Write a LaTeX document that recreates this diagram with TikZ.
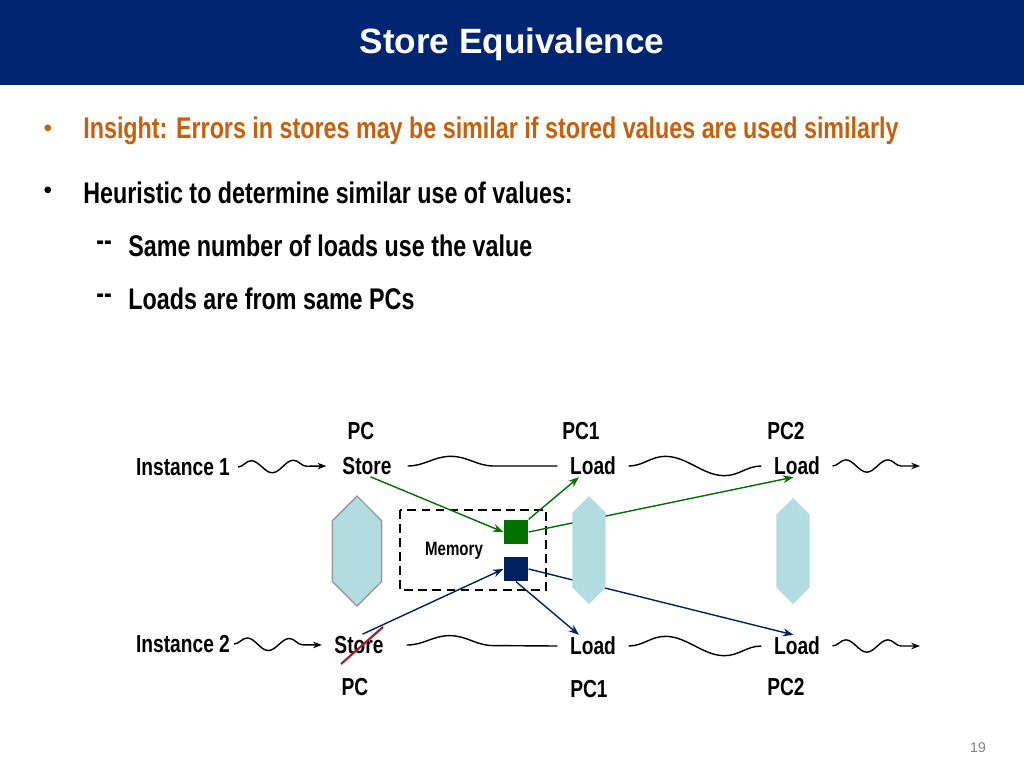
\documentclass[tikz,border=0pt]{standalone}
\usepackage{fontspec}
\setmainfont{Liberation Sans}
\newfontfamily\narrowfont[FakeStretch=0.78]{Liberation Sans}
\usepackage{xcolor}
\usetikzlibrary{shapes.arrows, decorations.pathmorphing, arrows.meta}
\definecolor{barblue}{HTML}{002672}
\definecolor{insight}{HTML}{C5600F}
\definecolor{memgreen}{HTML}{007000}
\definecolor{memblue}{HTML}{002060}
\definecolor{pale}{HTML}{B2DCDF}
\definecolor{slash}{HTML}{9E1B32}
\tikzstyle{lbl} = [font=\narrowfont\bfseries\fontsize{14}{16}\selectfont, inner sep=1pt]
\tikzstyle{bullet} = [font=\narrowfont\bfseries\fontsize{17}{20}\selectfont, anchor=west, inner sep=0pt]
\tikzstyle{wave} = [thick, decorate, decoration={snake, amplitude=5.5pt}]
\tikzstyle{wavearrow} = [thick, -{Stealth[length=5pt]}, decorate, decoration={snake, amplitude=3.5pt, segment length=24pt, post length=4pt}]
\tikzstyle{cell} = [rectangle, minimum size=14pt, inner sep=0pt]
\tikzstyle{garrow} = [thick, memgreen, -{Stealth[length=6pt]}]
\tikzstyle{barrow} = [thick, memblue, -{Stealth[length=6pt]}]
\tikzstyle{paleboth} = [double arrow, fill=pale, rotate=90, inner sep=0pt, minimum width=19pt, double arrow head extend=0pt, double arrow head indent=0pt]
\begin{document}
\begin{tikzpicture}[x=0.02cm, y=-0.02cm]
	\useasboundingbox (0,0) rectangle (1024,768);
	\fill[barblue] (0,0) rectangle (1024,85);
	\node[white, font=\bfseries\fontsize{20}{24}\selectfont] (title) at (512,44) {Store Equivalence};
	
	% bullets
	\node[font=\fontsize{14}{16}\selectfont, insight] (b1) at (48,131) {\textbullet};
	\node[bullet, insight] (t1) at (83,131) {Insight: Errors in stores may be similar if stored values are used similarly};
	\node[font=\fontsize{14}{16}\selectfont] (b2) at (48,193) {\textbullet};
	\node[bullet] (t2) at (83,193) {Heuristic to determine similar use of values:};
	\node[bullet] (d1) at (96,246) {--};
	\node[bullet] (t3) at (128,246) {Same number of loads use the value};
	\node[bullet] (d2) at (96,299) {--};
	\node[bullet] (t4) at (128,299) {Loads are from same PCs};
	
	% instance 1
	\node[lbl] (i1) at (183,467) {Instance 1};
	\node[lbl] (s1) at (367,466) {Store};
	\node[lbl] (pa) at (361,431) {PC};
	\node[lbl] (la) at (593,466) {Load};
	\node[lbl] (pa1) at (581,431) {PC1};
	\node[lbl] (lb) at (797,466) {Load};
	\node[lbl] (pa2) at (786,431) {PC2};
	\coordinate (e1) at (920,466);
	
	% instance 2
	\node[lbl] (i2) at (183,644) {Instance 2};
	\node[lbl] (s2) at (359,645) {Store};
	\node[lbl] (pb) at (355,687) {PC};
	\node[lbl] (lc) at (593,646) {Load};
	\node[lbl] (pb1) at (589,689) {PC1};
	\node[lbl] (ld) at (797,646) {Load};
	\node[lbl] (pb2) at (786,687) {PC2};
	\coordinate (e2) at (920,646);
	
	\draw[wavearrow] (i1.east) ++(6,0) -- ([xshift=-8]s1.west);
	\draw[wave, decoration={segment length=138*0.02cm}] ([xshift=8]s1.east) -- ([xshift=-6]la.west);
	\draw[wave, decoration={segment length=118*0.02cm}] ([xshift=6]la.east) -- ([xshift=-6]lb.west);
	\draw[wavearrow] ([xshift=6]lb.east) -- (e1);
	\draw[wavearrow] (i2.east) ++(2,0) -- ([xshift=-6]s2.west);
	\draw[wave, decoration={segment length=138*0.02cm}] ([xshift=12]s2.east) -- ([xshift=-6]lc.west);
	\draw[wave, decoration={segment length=118*0.02cm}] ([xshift=6]lc.east) -- ([xshift=-6]ld.west);
	\draw[wavearrow] ([xshift=6]ld.east) -- (e2);
	
	% memory
	\draw[thick, dashed, dash pattern=on 5pt off 3pt] (400,510) rectangle (546,590);
	\node[font=\narrowfont\bfseries\fontsize{11}{13}\selectfont] (mem) at (454,551) {Memory};
	\node[cell, fill=memgreen] (g) at (516,532) {};
	\node[cell, fill=memblue] (bl) at (516,569) {};
	
	\draw[garrow] ([xshift=2]s1.south) -- (g.west);
	\draw[garrow] (g.north east) -- ([xshift=-8]la.south);
	\draw[garrow] (g.east) -- ([xshift=-2]lb.south);
	\draw[barrow] ([xshift=2]s2.north) -- (bl.west);
	\draw[barrow] (bl.east) -- ([xshift=-2]ld.north);
	\draw[barrow] (bl.south) -- ([xshift=-8]lc.north);
	
	% correspondence
	\node[paleboth, draw=gray!80, thick, minimum height=110*0.02cm, minimum width=28pt] (c0) at (357,551) {};
	\node[paleboth, minimum height=108*0.02cm] (c1) at (589,550) {};
	\node[paleboth, minimum height=106*0.02cm] (c2) at (793,551) {};
	\draw[slash, very thick] (341,664) -- (383,627);
	
	\node[gray, font=\fontsize{8}{10}\selectfont] (num) at (978,748) {19};
\end{tikzpicture}
\end{document}
